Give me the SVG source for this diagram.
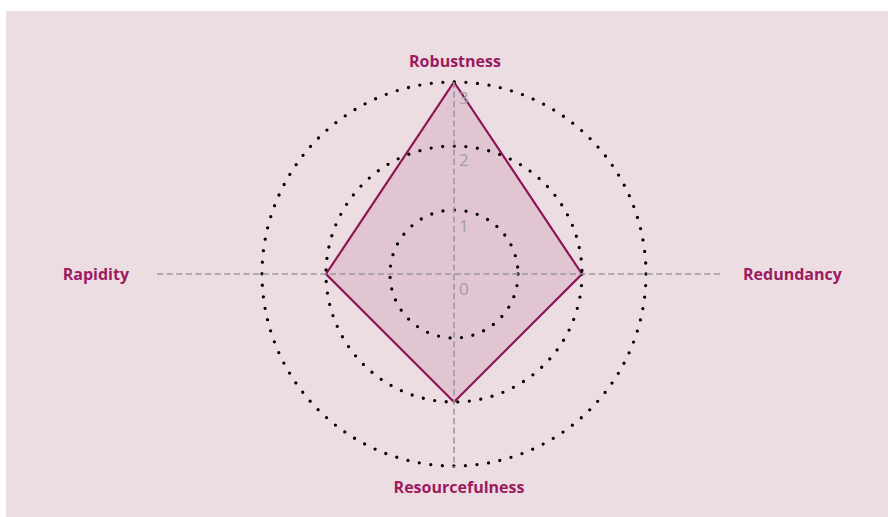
<svg xmlns="http://www.w3.org/2000/svg" width="888" height="517" viewBox="0 0 888 517">
<style>
.ring{fill:none;stroke:#000;stroke-width:3.3;stroke-linecap:round;stroke-dasharray:0 11.6}
.axis{fill:none;stroke:#999;stroke-width:1.6;stroke-dasharray:6.2 3.4}
.lbl{font-family:"Open Sans","Noto Sans",sans-serif;font-weight:bold;font-size:16px;fill:#9b1b60}
.tick{font-family:"Open Sans","Noto Sans",sans-serif;font-size:17px;fill:#a0a0a0}
</style>
<rect x="6" y="11" width="882" height="506" fill="#ecdde2"/>
<g id="area">
<polygon points="454,82 582,274 454,402 326,274" fill="#9b1b60" fill-opacity="0.12" stroke="#8f1457" stroke-width="2.2" stroke-linejoin="miter"/>
</g>
<g id="rings">
<circle class="ring" cx="454" cy="274" r="64"/>
<circle class="ring" cx="454" cy="274" r="128"/>
<circle class="ring" cx="454" cy="274" r="192"/>
</g>
<g id="connectors">
<line class="axis" x1="157" y1="274" x2="723" y2="274"/>
<line class="axis" x1="454" y1="82" x2="454" y2="467"/>
</g>
<g id="ticks">
<text class="tick" x="459" y="104">3</text>
<text class="tick" x="459" y="166">2</text>
<text class="tick" x="459" y="232">1</text>
<text class="tick" x="459" y="295">0</text>
</g>
<g id="node-robustness"><text class="lbl" x="455" y="67" text-anchor="middle">Robustness</text></g>
<g id="node-redundancy"><text class="lbl" x="743" y="280">Redundancy</text></g>
<g id="node-resourcefulness"><text class="lbl" x="459" y="493" text-anchor="middle">Resourcefulness</text></g>
<g id="node-rapidity"><text class="lbl" x="129" y="280" text-anchor="end">Rapidity</text></g>
</svg>
